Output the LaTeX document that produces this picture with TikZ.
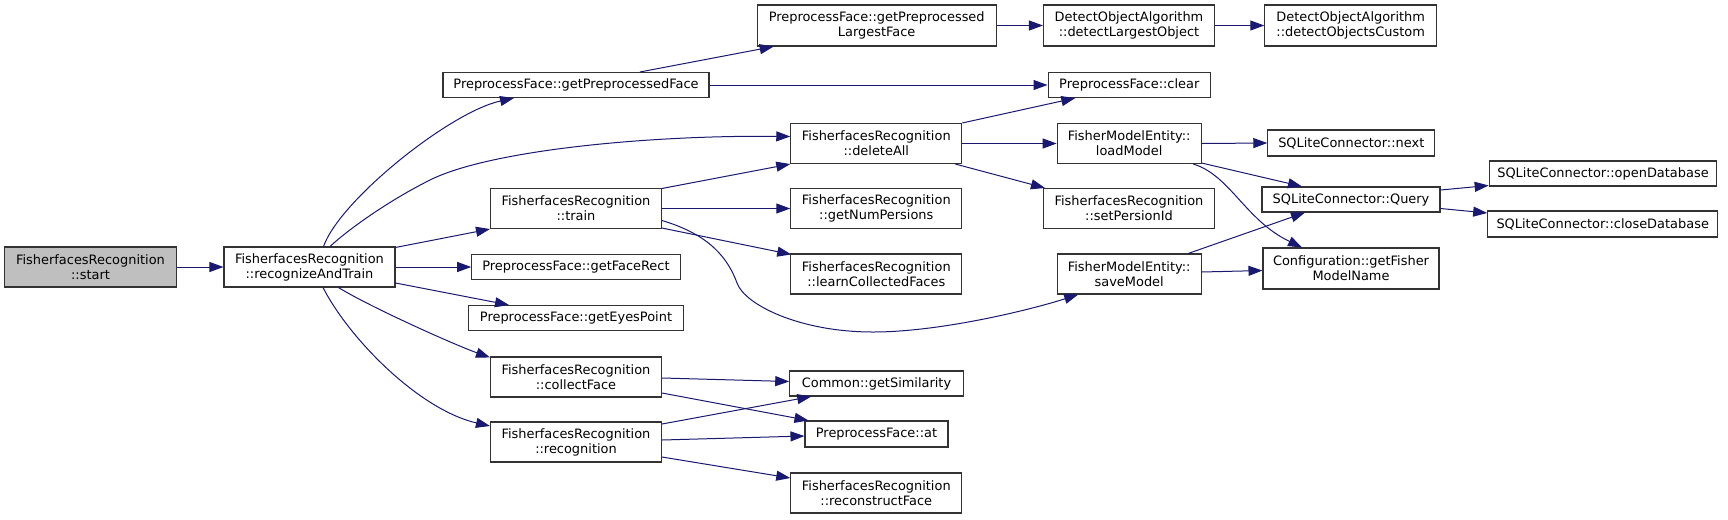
\documentclass[tikz,border=0pt]{standalone}
\usepackage{fontspec}
\setmainfont{DejaVu Sans}
\usetikzlibrary{arrows.meta,calc}
\definecolor{edgeblue}{HTML}{191970}
\definecolor{startfill}{HTML}{BFBFBF}
\definecolor{nodeline}{HTML}{333333}
\begin{document}
\begin{tikzpicture}[x=0.75pt,y=-0.75pt,
  nd/.style={draw=nodeline,line width=0.8pt,fill=white,inner sep=0pt,align=center,
    font=\fontsize{9.7}{11.25}\selectfont},
  bx/.style 2 args={minimum width=#1*0.75pt,minimum height=#2*0.75pt},
  e/.style={draw=edgeblue,line width=0.75pt,-{Triangle[length=10.5pt,width=7.5pt]},
    fill=none}]
\path[use as bounding box,fill=white] (0,0) rectangle (1728,519);
% nodes
\node[nd,fill=startfill,bx={172}{40}] (start) at (90.5,267) {FisherfacesRecognition\\::start};
\node[nd,bx={171}{40}] (rat) at (309.5,267) {FisherfacesRecognition\\::recognizeAndTrain};
\node[nd,bx={266}{25}] (gpf) at (576,85) {PreprocessFace::getPreprocessedFace};
\node[nd,bx={171}{40}] (train) at (576,208.5) {FisherfacesRecognition\\::train};
\node[nd,bx={208.5}{25}] (gfr) at (576,267) {PreprocessFace::getFaceRect};
\node[nd,bx={214.5}{25}] (gep) at (576,318) {PreprocessFace::getEyesPoint};
\node[nd,bx={171}{40}] (collect) at (576,377) {FisherfacesRecognition\\::collectFace};
\node[nd,bx={171}{40}] (recog) at (576,442) {FisherfacesRecognition\\::recognition};
\node[nd,bx={239}{41}] (gplf) at (876.7,25.5) {PreprocessFace::getPreprocessed\\LargestFace};
\node[nd,bx={171}{41}] (dlo) at (1129,25.5) {DetectObjectAlgorithm\\::detectLargestObject};
\node[nd,bx={171.7}{41}] (doc) at (1350.7,25.5) {DetectObjectAlgorithm\\::detectObjectsCustom};
\node[nd,bx={162.5}{25}] (clear) at (1129.3,85) {PreprocessFace::clear};
\node[nd,bx={171}{40}] (del) at (876.3,143.5) {FisherfacesRecognition\\::deleteAll};
\node[nd,bx={171}{40}] (gnp) at (876.3,208.5) {FisherfacesRecognition\\::getNumPersions};
\node[nd,bx={171}{40}] (lcf) at (876.3,274) {FisherfacesRecognition\\::learnCollectedFaces};
\node[nd,bx={144}{40}] (load) at (1129.2,143.5) {FisherModelEntity::\\loadModel};
\node[nd,bx={171}{40}] (spi) at (1129,208.5) {FisherfacesRecognition\\::setPersionId};
\node[nd,bx={144}{40}] (save) at (1129.2,274) {FisherModelEntity::\\saveModel};
\node[nd,bx={173.5}{25}] (gsim) at (876.5,383.5) {Common::getSimilarity};
\node[nd,bx={143}{26}] (pat) at (876.5,434) {PreprocessFace::at};
\node[nd,bx={171}{40}] (recon) at (876.3,493) {FisherfacesRecognition\\::reconstructFace};
\node[nd,bx={167}{26}] (sqnext) at (1351.3,143) {SQLiteConnector::next};
\node[nd,bx={178}{25}] (query) at (1351,199.5) {SQLiteConnector::Query};
\node[nd,bx={227.6}{25}] (open) at (1603,173.5) {SQLiteConnector::openDatabase};
\node[nd,bx={230}{26}] (close) at (1602.7,224) {SQLiteConnector::closeDatabase};
\node[nd,bx={176}{41}] (gfmn) at (1351,268.5) {Configuration::getFisher\\ModelName};
% edges
\draw[e] (start.east) -- (rat.west);
\draw[e] ($(rat.north)+(14,0)$) .. controls (340,200) and (450,112) .. ($(gpf.south)+(-62,0)$);
\draw[e] ($(rat.north)+(20.5,0)$) .. controls (350,228) and (390,200) .. (430,180) .. controls (490,150) and (650,135) .. ($(del.west)+(0,-7)$);
\draw[e] ($(rat.north east)+(0,1)$) -- (train.south west);
\draw[e] (rat.east) -- (gfr.west);
\draw[e] ($(rat.east)+(0,16)$) -- ($(gep.north)+(-67,0)$);
\draw[e] ($(rat.south)+(29,0)$) .. controls (370,307) and (455,345) .. ($(collect.north west)+(0,1)$);
\draw[e] ($(rat.south)+(13.5,0)$) .. controls (350,340) and (420,410) .. ($(recog.west)+(0,-16)$);
\draw[e] ($(gpf.north)+(64,0)$) -- ($(gplf.south)+(-103,0)$);
\draw[e] (gpf.east) -- (clear.west);
\draw[e] ($(train.north east)+(0,0.5)$) -- (del.south west);
\draw[e] (train.east) -- (gnp.west);
\draw[e] ($(train.south east)+(0,-1)$) -- ($(lcf.north west)+(1,1)$);
\draw[e] ($(train.east)+(0,12)$) .. controls (700,232) and (725,250) .. (737,283) .. controls (745,305) and (800,332) .. (873,332) .. controls (940,332) and (1030,310) .. ($(save.south)+(-51,0)$);
\draw[e] (del.north east) -- ($(clear.south)+(-54,0)$);
\draw[e] (del.east) -- (load.west);
\draw[e] ($(del.south east)+(-7,0)$) -- ($(spi.north west)+(2,0)$);
\draw[e] (gplf.east) -- (dlo.west);
\draw[e] (dlo.east) -- (doc.west);
\draw[e] (load.east) -- (sqnext.west);
\draw[e] ($(load.south east)+(0,-1)$) -- ($(query.north)+(-49,0)$);
\draw[e] ($(load.south)+(64,0)$) .. controls (1230,175) and (1245,220) .. ($(gfmn.north)+(-49,0)$);
\draw[e] ($(save.north)+(59,0)$) -- ($(query.south)+(-46,0)$);
\draw[e] ($(save.east)+(0,-2)$) -- ($(gfmn.west)+(0,2)$);
\draw[e] ($(query.east)+(0,-9.5)$) -- ($(open.west)+(0,12)$);
\draw[e] ($(query.east)+(0,9)$) -- ($(close.west)+(0,-11)$);
\draw[e] ($(collect.east)+(0,1)$) -- ($(gsim.west)+(0,-2)$);
\draw[e] ($(collect.east)+(0,16)$) -- ($(pat.north west)+(4,0)$);
\draw[e] ($(recog.east)+(0,-18)$) -- ($(gsim.south west)+(22,0)$);
\draw[e] ($(recog.east)+(0,-2)$) -- ($(pat.west)+(0,2)$);
\draw[e] ($(recog.east)+(0,15)$) -- ($(recon.west)+(0,-15)$);
\end{tikzpicture}
\end{document}
